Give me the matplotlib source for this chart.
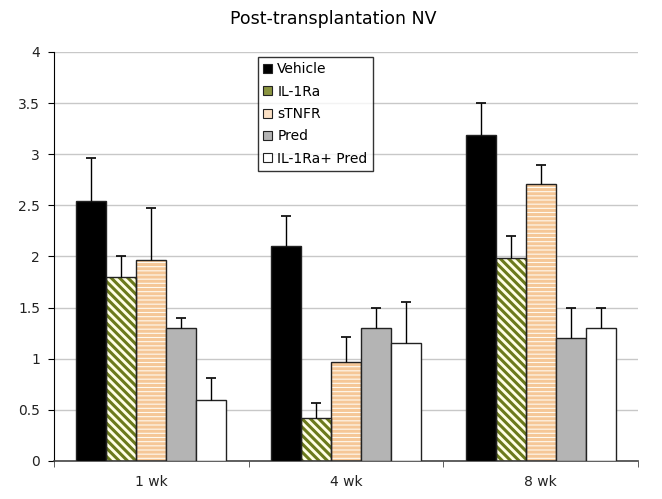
import numpy as np
import matplotlib
matplotlib.use("Agg")
import matplotlib.pyplot as plt

# data
weeks = ["1 wk", "4 wk", "8 wk"]
groups = ["Vehicle", "IL-1Ra", "sTNFR", "Pred", "IL-1Ra+ Pred"]
vehicle = [2.54, 2.10, 3.19]
il1ra = [1.80, 0.42, 1.99]
stnfr = [1.97, 0.97, 2.71]
pred = [1.30, 1.30, 1.20]
combo = [0.60, 1.15, 1.30]
vehicle_err = [0.42, 0.30, 0.31]
il1ra_err = [0.20, 0.15, 0.21]
stnfr_err = [0.50, 0.24, 0.18]
pred_err = [0.10, 0.20, 0.30]
combo_err = [0.21, 0.40, 0.20]
y_ticks = [0, 0.5, 1, 1.5, 2, 2.5, 3, 3.5, 4]
y_labels = ["0", "0.5", "1", "1.5", "2", "2.5", "3", "3.5", "4"]

values = [vehicle, il1ra, stnfr, pred, combo]
errors = [vehicle_err, il1ra_err, stnfr_err, pred_err, combo_err]

# (face, hatch, hatch colour, legend face)
styles = [
    ("#000000", None, None, "#000000"),
    ("#ffffe6", "\\\\\\\\", "#6b7a1c", "#8a9440"),
    ("#fffaf0", "----", "#f5c797", "#fbe0c4"),
    ("#b4b4b4", None, None, "#b4b4b4"),
    ("#ffffff", None, None, "#ffffff"),
]

plt.rcParams["hatch.linewidth"] = 2.2

fig = plt.figure(figsize=(6.62, 4.99), dpi=100)
ax = fig.add_axes([0.0816, 0.0762, 0.8821, 0.8196])

x = np.arange(len(weeks))
width = 0.154
handles = []
for i, (vals, errs) in enumerate(zip(values, errors)):
    face, hatch, hcol, legface = styles[i]
    pos = x + (i - 2) * width
    if hatch:
        ax.bar(pos, vals, width, color=face, hatch=hatch, edgecolor=hcol, linewidth=0, zorder=2)
        ax.bar(pos, vals, width, fill=False, edgecolor="#222222", linewidth=1, zorder=3)
    else:
        ax.bar(pos, vals, width, color=face, edgecolor="#222222", linewidth=1, zorder=3)
    eb = ax.errorbar(pos, vals, yerr=[np.zeros(len(vals)), errs], fmt="none",
                     ecolor="black", elinewidth=1, capsize=3.5, capthick=1.2, zorder=4)
    eb[1][0].set_visible(False)  # drop the cap sitting on the bar top
    handles.append(plt.Rectangle((0, 0), 1, 1, facecolor=legface, edgecolor="#222222", linewidth=0.8))

ax.set_xlim(-0.5, 2.5)
ax.set_ylim(0, 4)
ax.set_yticks(y_ticks)
ax.set_yticklabels(y_labels, fontsize=10, color="#222222")
ax.set_xticks(x)
ax.set_xticklabels(weeks, fontsize=10, color="#222222")
ax.set_xticks([-0.5, 0.5, 1.5, 2.5], minor=True)
ax.tick_params(axis="x", which="major", length=0, pad=10)
ax.tick_params(axis="x", which="minor", length=4, direction="out", color="#444444")
ax.tick_params(axis="y", length=4, direction="out", pad=6)

ax.yaxis.grid(True, color="#c8c8c8", linewidth=1)
ax.set_axisbelow(True)
for s in ["top", "right"]:
    ax.spines[s].set_visible(False)
ax.spines["left"].set_color("black")
ax.spines["bottom"].set_color("#444444")
ax.spines["bottom"].set_linewidth(1.2)

fig.text(0.503, 0.962, "Post-transplantation NV", fontsize=12.5, ha="center", va="center")

leg = ax.legend(handles, groups, loc="upper left", bbox_to_anchor=(0.337, 1.005),
                fontsize=10, frameon=True, fancybox=False, edgecolor="black",
                handlelength=0.6, handleheight=0.6, handletextpad=0.4,
                labelspacing=0.6, borderpad=0.4)
leg.get_frame().set_linewidth(1)

fig.savefig("out.png", dpi=100)
